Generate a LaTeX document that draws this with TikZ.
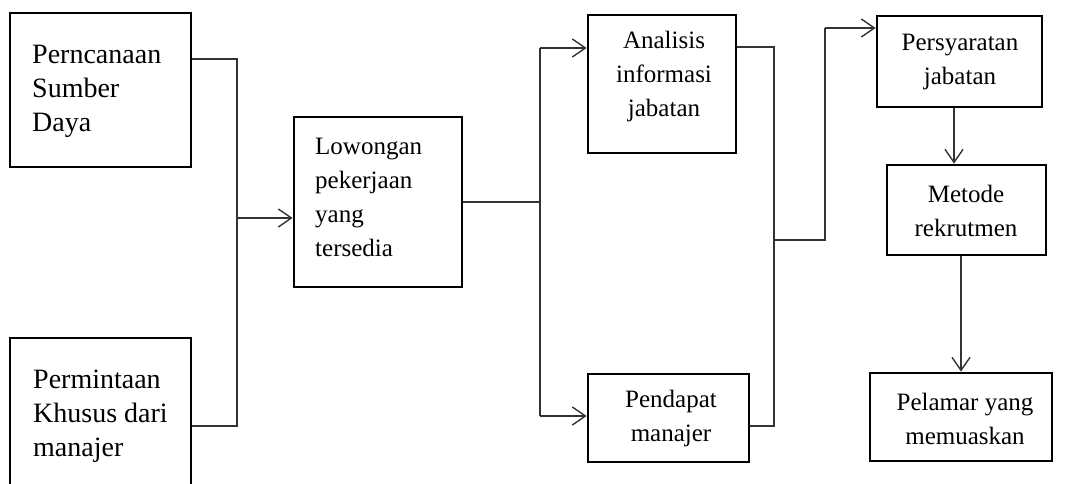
\documentclass[tikz,border=0pt]{standalone}
\usepackage{fontspec}
\setmainfont{Liberation Serif}
\usetikzlibrary{arrows.meta}
\begin{document}
\begin{tikzpicture}[x=1pt,y=-1pt,
  box/.style={draw=black,line width=2.8pt,rectangle,inner sep=0pt},
  bigtxt/.style={font=\fontsize{28}{34}\selectfont,align=left,inner sep=0pt},
  txtl/.style={font=\fontsize{25}{34}\selectfont,align=left,inner sep=0pt},
  txtc/.style={font=\fontsize{25}{34}\selectfont,align=center,inner sep=0pt},
  conn/.style={draw=black!80,line width=1.4pt},
  arr/.style={conn,-{Straight Barb[length=13pt,width=18pt,line width=1.4pt]}}]
\useasboundingbox (0,0) rectangle (1078,484);
% boxes
\node[box,minimum width=181pt,minimum height=154pt] (p1) at (100.5,90) {};
\node[bigtxt,anchor=west] (p1t) at (32,91.5) {Perncanaan\\Sumber\\Daya};
\node[box,minimum width=181pt,minimum height=154pt] (p2) at (100.5,415) {};
\node[bigtxt,anchor=west] (p2t) at (33,416) {Permintaan\\Khusus dari\\manajer};
\node[box,minimum width=168pt,minimum height=170pt] (lw) at (378,202) {};
\node[txtl,anchor=west] (lwt) at (315,197) {Lowongan\\pekerjaan\\yang\\tersedia};
\node[box,minimum width=148pt,minimum height=138pt] (an) at (662,84) {};
\node[txtc] (ant) at (664,76) {Analisis\\informasi\\jabatan};
\node[box,minimum width=161pt,minimum height=88pt] (pd) at (668.5,418) {};
\node[txtc] (pdt) at (671,418) {Pendapat\\manajer};
\node[box,minimum width=165pt,minimum height=91pt] (ps) at (959.5,61.5) {};
\node[txtc] (pst) at (960,61.5) {Persyaratan\\jabatan};
\node[box,minimum width=159pt,minimum height=90pt] (mt) at (966.5,210) {};
\node[txtc] (mtt) at (966,210.5) {Metode\\rekrutmen};
\node[box,minimum width=182pt,minimum height=88pt] (pl) at (961,417) {};
\node[txtc] (plt) at (965,418.5) {Pelamar yang\\memuaskan};
% junction coordinates
\coordinate (a1) at (237,59);
\coordinate (a2) at (237,426);
\coordinate (a3) at (237,218);
\coordinate (b0) at (540,202);
\coordinate (b1) at (540,48);
\coordinate (b2) at (540,416);
\coordinate (c1) at (774,47);
\coordinate (c2) at (774,426);
\coordinate (c3) at (774,240);
\coordinate (d1) at (825,240);
\coordinate (d2) at (825,28);
% connectors
\draw[conn] (a1 -| p1.east) -- (a1) -- (a2) -- (a2 -| p2.east);
\draw[arr] (a3) -- (a3 -| lw.west);
\draw[conn] (b0 -| lw.east) -- (b0);
\draw[conn] (b1) -- (b2);
\draw[arr] (b1) -- (b1 -| an.west);
\draw[arr] (b2) -- (b2 -| pd.west);
\draw[conn] (c1 -| an.east) -- (c1) -- (c2) -- (c2 -| pd.east);
\draw[conn] (c3) -- (d1) -- (d2);
\draw[arr] (d2) -- (d2 -| ps.west);
\draw[arr] (ps.south -| 954,0) -- (mt.north -| 954,0);
\draw[arr] (mt.south -| 961,0) -- (pl.north -| 961,0);
\end{tikzpicture}
\end{document}
